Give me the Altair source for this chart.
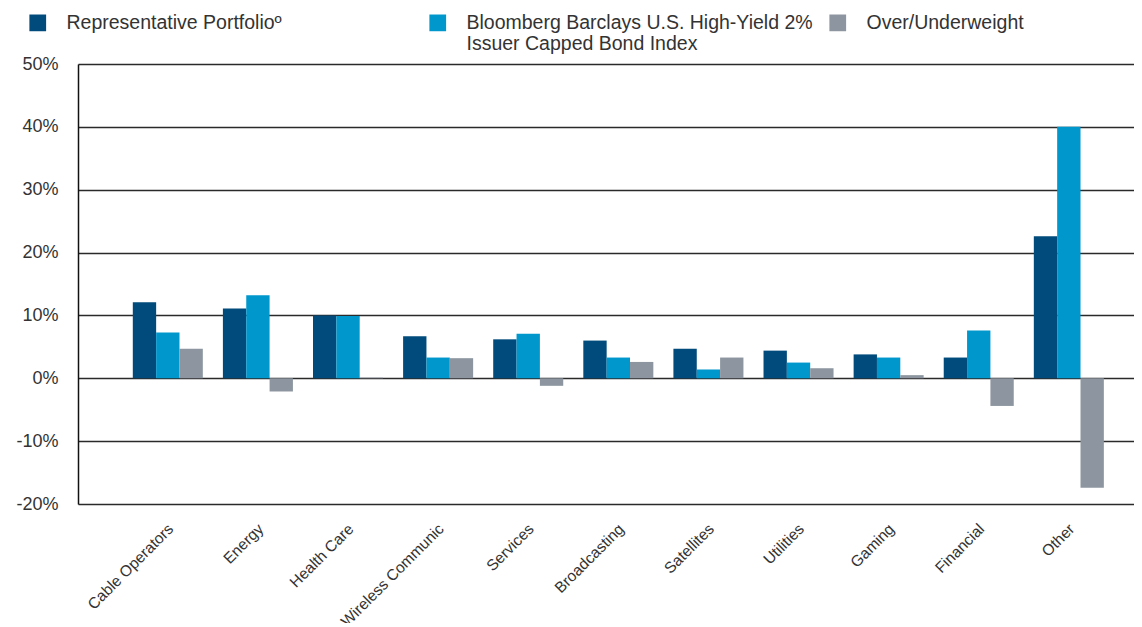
import altair as alt
import pandas as pd

categories = ["Cable Operators", "Energy", "Health Care", "Wireless Communic", "Services",
              "Broadcasting", "Satellites", "Utilities", "Gaming", "Financial", "Other"]
portfolio = [12.1, 11.1, 10.0, 6.7, 6.2, 6.0, 4.7, 4.4, 3.8, 3.3, 22.6]
index_vals = [7.3, 13.2, 9.9, 3.3, 7.1, 3.3, 1.4, 2.5, 3.3, 7.6, 40.0]
over_under = [4.7, -2.1, 0.1, 3.2, -1.2, 2.6, 3.3, 1.6, 0.5, -4.4, -17.4]

series_names = ["Representative Portfolioº",
                "Bloomberg Barclays U.S. High-Yield 2% Issuer Capped Bond Index",
                "Over/Underweight"]
series_colors = ["#004B7B", "#0097CD", "#8D96A0"]
y_ticks = [-20, -10, 0, 10, 20, 30, 40, 50]

rows = []
for i, c in enumerate(categories):
    for s, vals in zip(series_names, [portfolio, index_vals, over_under]):
        rows.append({"category": c, "series": s, "value": vals[i]})
df = pd.DataFrame(rows)

label_expr = ("datum.label == '" + series_names[1] + "' ? "
              "['Bloomberg Barclays U.S. High-Yield 2%', 'Issuer Capped Bond Index'] : [datum.label, ' ']")

chart = alt.Chart(df).mark_bar().encode(
    x=alt.X("category:N", sort=categories,
            scale=alt.Scale(paddingInner=0, paddingOuter=0.36, align=0.69),
            axis=alt.Axis(title=None, labelAngle=-45, labelFontSize=15.5, labelColor="#333333",
                          labelFont="Liberation Sans", ticks=False, domain=False,
                          labelPadding=22, labelOffset=3, labelAlign="right",
                          labelBaseline="middle")),
    xOffset=alt.XOffset("series:N", sort=series_names,
                        scale=alt.Scale(paddingInner=0, paddingOuter=0.43)),
    y=alt.Y("value:Q", scale=alt.Scale(domain=[-20, 50], nice=False, zero=False),
            axis=alt.Axis(title=None, values=y_ticks, labelExpr="datum.value + '%'",
                          labelFontSize=18, labelColor="#333333", labelFont="Liberation Sans",
                          ticks=False, labelPadding=20, domain=True, domainColor="#111111",
                          domainWidth=1.5, grid=True, gridColor="#2a2a2a", gridWidth=1.6)),
    color=alt.Color("series:N", sort=series_names,
                    scale=alt.Scale(domain=series_names, range=series_colors),
                    legend=alt.Legend(title=None, orient="none", legendX=-50, legendY=-51,
                                      direction="horizontal", columns=3, gridAlign="all",
                                      columnPadding=15, symbolType="square", symbolSize=280,
                                      symbolStrokeWidth=0, labelFontSize=19.5, labelOffset=19,
                                      labelColor="#333333", labelFont="Liberation Sans",
                                      labelLimit=500, labelExpr=label_expr)),
).properties(
    width=1056, height=440,
    autosize=alt.AutoSizeParams(type="none"),
    padding={"left": 70, "top": 56, "right": 0, "bottom": 119},
).configure_view(stroke=None)

chart.save("out.html", embed_options={"renderer": "svg", "actions": False})
